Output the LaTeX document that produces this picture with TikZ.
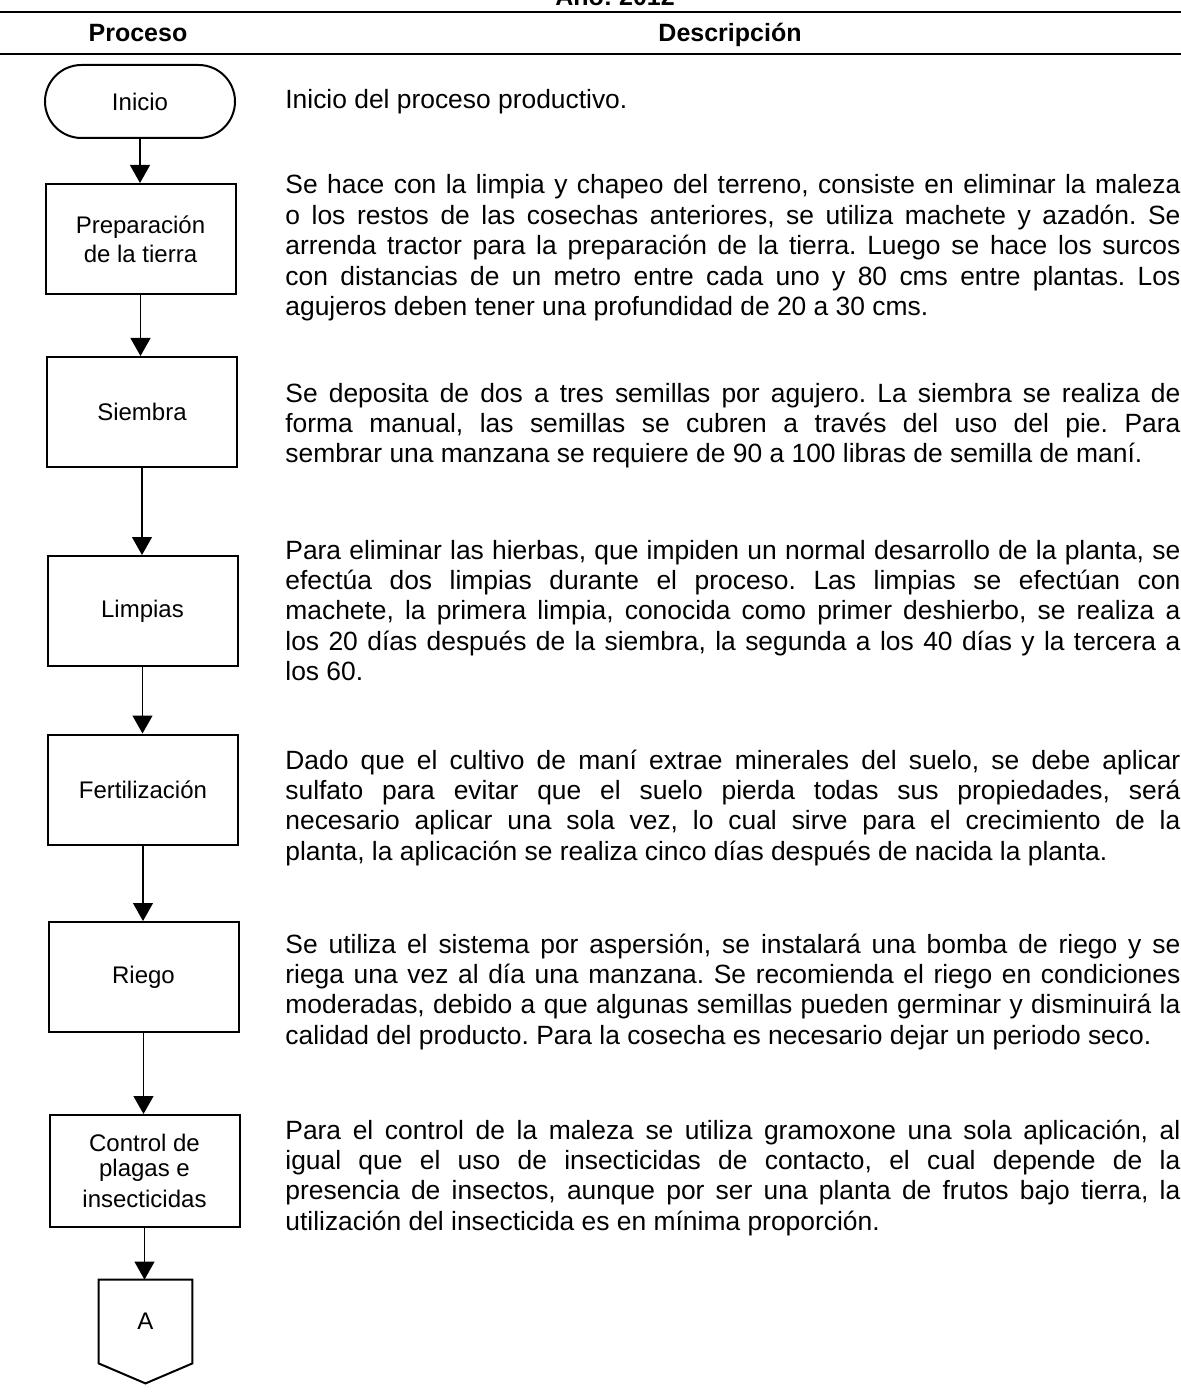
\documentclass[tikz,border=0pt]{standalone}
\usepackage{fontspec}
\setmainfont{Liberation Sans}
\usetikzlibrary{arrows.meta}
\frenchspacing

\begin{document}
\begin{tikzpicture}[x=0.5pt,y=-0.5pt,
  proc/.style={draw, line width=1pt, minimum width=95pt, minimum height=55pt,
    align=center, inner sep=2pt, font=\fontsize{12}{14.5}\selectfont},
  term/.style={proc, minimum height=36.5pt, rounded corners=18.25pt},
  desc/.style={anchor=base west, inner sep=0pt, text width=447.5pt,
    align=justify, font=\fontsize{13.2}{15.2}\selectfont},
  flow/.style={line width=0.6pt, -{Triangle[length=9pt,width=10pt]}},
  head/.style={anchor=base, font=\bfseries\fontsize{12.5}{15}\selectfont},
  hrule/.style={line width=1.3pt}
]
\useasboundingbox (0,0) rectangle (1181,1395);

% table header (title line runs above the top edge)
\node[head] (anio) at (615,6) {Año: 2012};
\draw[hrule] (0,12) -- (1181,12);
\node[head] (hproc) at (138,42) {Proceso};
\node[head] (hdesc) at (730,42) {Descripción};
\draw[line width=1pt] (0,54) -- (1181,54);

% process column
\node[term] (inicio) at (140,101.5) {Inicio};
\node[proc] (prep) at (140.5,239) {Preparación\\de la tierra};
\node[proc] (siembra) at (142,412) {Siembra};
\node[proc] (limpias) at (142.5,611) {Limpias};
\node[proc] (fert) at (143,789.5) {Fertilización};
\node[proc] (riego) at (143.5,977) {Riego};
\node[proc, minimum height=56pt] (control) at (144.5,1171)
  {Control de\\[-2pt]plagas e\\[1pt]insecticidas};

% off-page connector
\node[minimum width=46.5pt, minimum height=41.5pt, inner sep=0pt,
  font=\fontsize{12}{14.5}\selectfont] (conA) at (145.5,1321.5) {\raisebox{-3pt}{A}};
\draw[line width=1pt] (conA.north west) -- (conA.north east) -- (conA.south east)
  -- ([yshift=-10pt]conA.south) -- (conA.south west) -- cycle;

% connectors
\draw[flow] (inicio.south) -- (inicio.south |- prep.north);
\draw[flow] (prep.south) -- (prep.south |- siembra.north);
\draw[flow] (siembra.south) -- (siembra.south |- limpias.north);
\draw[flow] (limpias.south) -- (limpias.south |- fert.north);
\draw[flow] (fert.south) -- (fert.south |- riego.north);
\draw[flow] (riego.south) -- (riego.south |- control.north);
\draw[flow] (control.south) -- (control.south |- conA.north);

% description column
\node[desc] (d0) at (285,109) {Inicio del proceso productivo.};
\node[desc] (d1) at (285,194) {Se hace con la limpia y chapeo del terreno, consiste en eliminar la maleza\linebreak
o los restos de las cosechas anteriores, se utiliza machete y azadón. Se\linebreak
arrenda tractor para la preparación de la tierra. Luego se hace los surcos\linebreak
con distancias de un metro entre cada uno y 80 cms entre plantas. Los\linebreak
agujeros deben tener una profundidad de 20 a 30 cms.};
\node[desc] (d2) at (285,402) {Se deposita de dos a tres semillas por agujero. La siembra se realiza de\linebreak
forma manual, las semillas se cubren a través del uso del pie. Para\linebreak
sembrar una manzana se requiere de 90 a 100 libras de semilla de maní.};
\node[desc] (d3) at (285,559) {Para eliminar las hierbas, que impiden un normal desarrollo de la planta, se\linebreak
efectúa dos limpias durante el proceso. Las limpias se efectúan con\linebreak
machete, la primera limpia, conocida como primer deshierbo, se realiza a\linebreak
los 20 días después de la siembra, la segunda a los 40 días y la tercera a\linebreak
los 60.};
\node[desc] (d4) at (285,769) {Dado que el cultivo de maní extrae minerales del suelo, se debe aplicar\linebreak
sulfato para evitar que el suelo pierda todas sus propiedades, será\linebreak
necesario aplicar una sola vez, lo cual sirve para el crecimiento de la\linebreak
planta, la aplicación se realiza cinco días después de nacida la planta.};
\node[desc] (d5) at (285,953) {Se utiliza el sistema por aspersión, se instalará una bomba de riego y se\linebreak
riega una vez al día una manzana. Se recomienda el riego en condiciones\linebreak
moderadas, debido a que algunas semillas pueden germinar y disminuirá la\linebreak
calidad del producto. Para la cosecha es necesario dejar un periodo seco.};
\node[desc] (d6) at (285,1139) {Para el control de la maleza se utiliza gramoxone una sola aplicación, al\linebreak
igual que el uso de insecticidas de contacto, el cual depende de la\linebreak
presencia de insectos, aunque por ser una planta de frutos bajo tierra, la\linebreak
utilización del insecticida es en mínima proporción.};
\end{tikzpicture}
\end{document}
